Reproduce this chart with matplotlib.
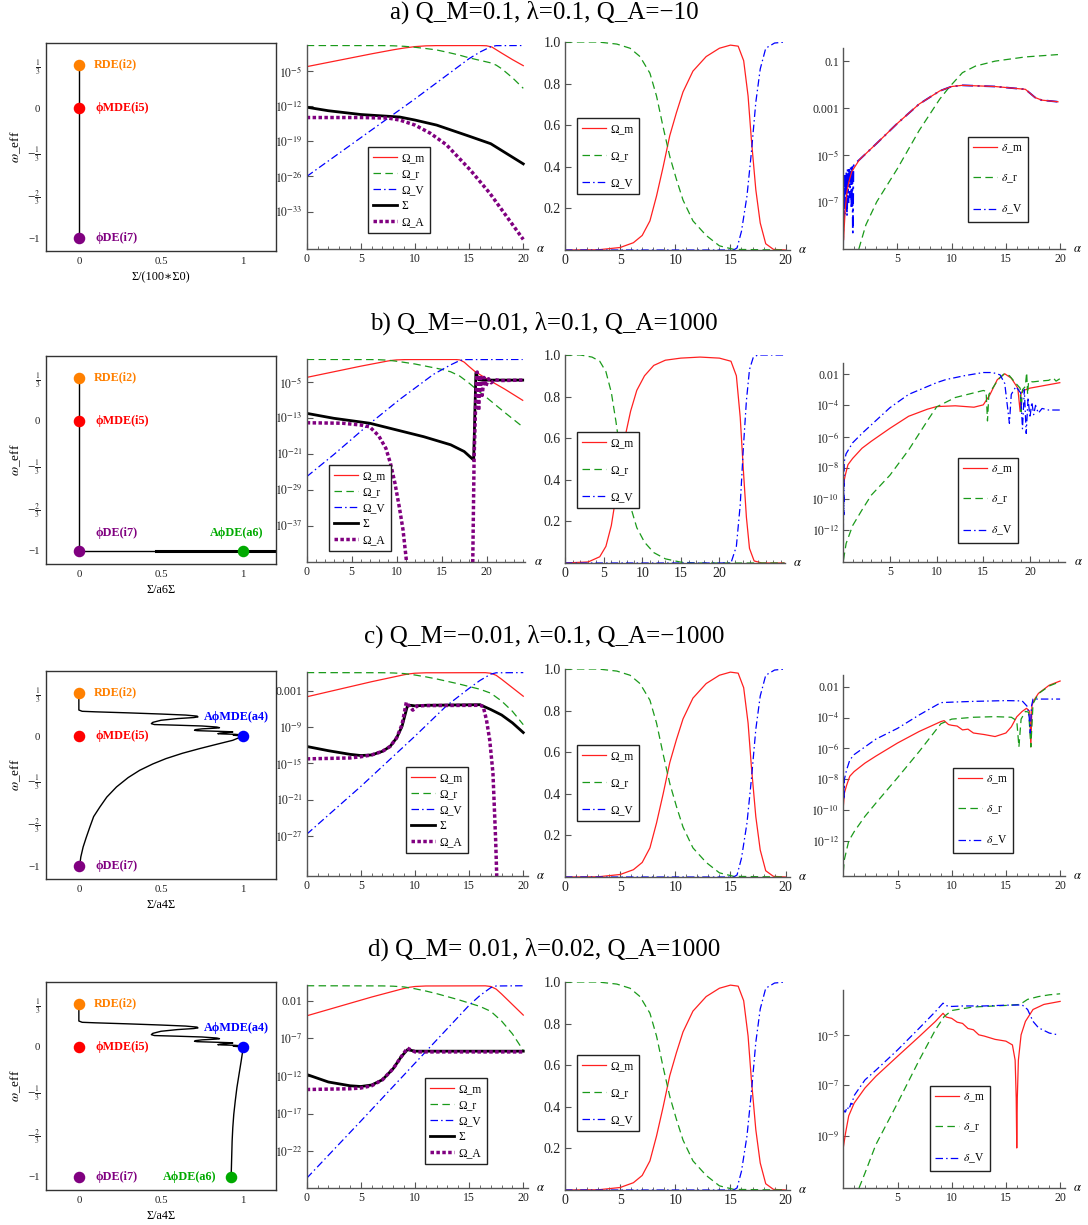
import numpy as np
import matplotlib
matplotlib.use('Agg')
import matplotlib.pyplot as plt
from matplotlib.lines import Line2D
from matplotlib.ticker import FixedLocator, MultipleLocator, NullLocator, FuncFormatter

plt.rcParams['font.family'] = ['Liberation Serif', 'DejaVu Serif']
plt.rcParams['mathtext.fontset'] = 'stix'

W, H = 1088, 1225
fig = plt.figure(figsize=(W / 100, H / 100), dpi=100)

# ======================= DATA =======================
titles = ['a) Q_M=0.1, λ=0.1, Q_A=−10',
          'b) Q_M=−0.01, λ=0.1, Q_A=1000',
          'c) Q_M=−0.01, λ=0.1, Q_A=−1000',
          'd) Q_M= 0.01, λ=0.02, Q_A=1000']
phase_xlabels = ['Σ/(100∗Σ0)', 'Σ/a6Σ', 'Σ/a4Σ', 'Σ/a4Σ']
omega_labels = ['Ω_m', 'Ω_r', 'Ω_V', 'Σ', 'Ω_A']
delta_labels = [r'$\delta$_m', r'$\delta$_r', r'$\delta$_V']
weff_ticks = [1 / 3, 0, -1 / 3, -2 / 3, -1]
weff_ticklabels = [r'$\frac{1}{3}$', '0', r'$-\frac{1}{3}$', r'$-\frac{2}{3}$', '−1']

# ---- column 1: phase-space paths (Sigma-ratio, w_eff) ----
a1_x = [0, 0]
a1_y = [1 / 3, -1]
b1_x = [0, 0, 1.2]
b1_y = [1 / 3, -1, -1]
b1_thick_x = [0.47, 1.2]
b1_thick_y = [-1, -1]
c1_up_x = [0, 0, 0.02, 0.1, 0.3, 0.5, 0.65, 0.72, 0.725, 0.70, 0.6, 0.5, 0.45, 0.441, 0.46,
           0.6, 0.75, 0.84, 0.856, 0.84, 0.75, 0.71, 0.704, 0.72, 0.85, 0.92, 0.937, 0.92,
           0.86, 0.846, 0.87, 0.95, 0.978, 0.96, 0.94, 0.96, 0.99, 1.0]
c1_up_y = [0.3333, 0.2, 0.19, 0.186, 0.178, 0.169, 0.161, 0.153, 0.147, 0.142, 0.134, 0.121,
           0.105, 0.095, 0.088, 0.083, 0.077, 0.069, 0.064, 0.061, 0.055, 0.049, 0.044, 0.041,
           0.036, 0.033, 0.031, 0.028, 0.022, 0.018, 0.016, 0.013, 0.01, 0.008, 0.006, 0.004,
           0.002, 0.0]
c1_lo_x = [1.0, 0.937, 0.835, 0.735, 0.63, 0.53, 0.45, 0.37, 0.3, 0.229, 0.17, 0.128, 0.09,
           0.067, 0.045, 0.026, 0.012, 0.006]
c1_lo_y = [0, -0.033, -0.065, -0.097, -0.133, -0.174, -0.215, -0.264, -0.32, -0.392, -0.47,
           -0.546, -0.62, -0.7, -0.78, -0.854, -0.93, -0.987]
d1_lo_x = [1.0, 0.995, 0.988, 0.975, 0.962, 0.952, 0.943, 0.937, 0.933, 0.93, 0.927]
d1_lo_y = [0, -0.05, -0.108, -0.21, -0.313, -0.415, -0.518, -0.62, -0.723, -0.86, -1.0]

# fixed points (name, colour)
pt_names = ['RDE(i2)', 'ϕMDE(i5)', 'ϕDE(i7)', 'AϕMDE(a4)', 'AϕDE(a6)']
pt_colors = ['#ff8000', '#ff0000', '#800080', '#0000ff', '#00aa00']

# ---- column 2: log10 of density parameters ----
# row a
a2_m_x = [0, 2, 4, 6, 8, 9, 10, 11, 12, 16, 16.6, 17.1, 18, 19, 20]
a2_m_y = [-4.2, -3.35, -2.5, -1.65, -0.85, -0.5, -0.22, -0.07, -0.02, -0.01, -0.05, -0.3, -1.5, -2.8, -4.0]
a2_r_x = [0, 7, 8, 9, 10, 11, 12, 13, 14, 15, 16, 17, 17.5, 18, 19, 20]
a2_r_y = [0, -0.02, -0.06, -0.16, -0.35, -0.6, -0.88, -1.35, -1.85, -2.45, -2.95, -3.45, -3.9, -4.6, -6.4, -8.5]
a2_V_x = [0, 5, 10, 15, 16, 17, 17.5, 20]
a2_V_y = [-26.0, -18.3, -10.6, -2.6, -1.3, -0.25, -0.03, 0]
a2_S_x = [0, 2, 5, 8.6, 10, 12, 15, 17, 20]
a2_S_y = [-12.25, -12.95, -13.7, -14.2, -14.8, -15.8, -18.0, -19.5, -23.5]
a2_A_x = [0, 5, 7.5, 8.6, 10, 11.4, 12.9, 15.1, 16.9, 20]
a2_A_y = [-14.3, -14.3, -14.4, -14.8, -15.8, -17.4, -19.7, -24.7, -29.3, -38.5]
# row b
b2_m_x = [0, 3, 6, 9, 9.5, 10, 11, 16.5, 17, 17.5, 18, 18.7, 20, 22, 24]
b2_m_y = [-4.0, -2.75, -1.5, -0.35, -0.2, -0.1, -0.03, -0.01, -0.1, -0.6, -1.5, -2.7, -4.3, -6.6, -9.1]
b2_r_x = [0, 7, 8, 9, 10, 11, 12, 13, 14, 15, 16, 17, 18, 19, 20, 22, 24]
b2_r_y = [0, -0.02, -0.06, -0.16, -0.4, -0.7, -1.0, -1.4, -1.8, -2.2, -2.75, -3.7, -5.2, -6.9, -8.5, -11.8, -15.0]
b2_V_x = [0, 3, 7, 10.4, 14.1, 16, 17, 17.5, 24]
b2_V_y = [-26.1, -21.2, -14.3, -8.8, -3.3, -1.2, -0.25, -0.03, 0]
b2_S_x = [0, 3, 7, 10, 13, 16, 17.5, 18.55, 18.8, 19.1, 19.5, 24]
b2_S_y = [-12.0, -13.1, -14.2, -15.7, -17.2, -19.0, -20.5, -22.4, -3.0, -4.5, -4.6, -4.6]
b2_A1_x = [0, 4, 5, 6, 7, 8, 8.8, 9.3, 9.8, 10.3, 10.7, 11.1]
b2_A1_y = [-14.1, -14.2, -14.4, -14.6, -15.0, -17.0, -19.8, -23.1, -27.5, -33.0, -37.9, -45.2]
b2_A2_x = [18.45, 18.6, 18.8, 18.95, 19.1, 19.3, 19.5, 19.7, 19.9, 20.2, 20.5, 20.9, 21.5, 24]
b2_A2_y = [-45.2, -22, -8, -2.8, -11.4, -3.5, -8.0, -4.0, -6.0, -4.3, -5.2, -4.5, -4.7, -4.6]
# row c
c2_m_x = [0, 3, 6, 9, 9.5, 10, 11, 16.5, 17, 17.5, 18, 19, 20]
c2_m_y = [-4.0, -2.75, -1.5, -0.35, -0.2, -0.1, -0.03, -0.01, -0.1, -0.45, -1.1, -2.5, -3.9]
c2_r_x = [0, 7, 8, 9, 10, 11, 12, 13, 14, 15, 16, 17, 18, 19, 20]
c2_r_y = [0, -0.02, -0.06, -0.16, -0.4, -0.7, -1.05, -1.45, -1.85, -2.3, -2.75, -3.4, -4.7, -6.4, -8.6]
c2_V_x = [0, 5, 10, 12.9, 15, 16, 17, 17.5, 20]
c2_V_y = [-26.7, -18.8, -10.5, -5.5, -2.6, -1.3, -0.25, -0.03, 0]
c2_S_x = [0, 2, 4, 5, 6, 7, 7.7, 8.3, 8.8, 9.3, 9.6, 10, 11, 16, 17, 18, 19, 20]
c2_S_y = [-12.2, -12.9, -13.5, -13.7, -13.6, -13.0, -12.2, -10.8, -8.9, -5.5, -5.4, -5.5, -5.4, -5.3, -6.1, -7.0, -8.3, -9.9]
c2_A_x = [0, 4, 5, 6, 7, 7.7, 8.3, 8.8, 9.2, 9.5, 9.8, 10.2, 11, 16, 16.3, 16.6, 16.9, 17.2, 17.45, 17.55]
c2_A_y = [-14.25, -14.1, -13.9, -13.6, -13.0, -12.2, -10.8, -8.6, -4.9, -5.6, -6.2, -5.5, -5.45, -5.4, -5.6, -7.8, -11.1, -16.6, -27.7, -33.6]
# row d
d2_m_x = [0, 3, 6, 9, 9.5, 10, 11, 16.5, 17, 17.5, 18, 19, 20]
d2_m_y = [-4.0, -2.75, -1.5, -0.35, -0.2, -0.1, -0.03, -0.01, -0.1, -0.45, -1.1, -2.5, -3.9]
d2_r_x = [0, 7, 8, 9, 10, 11, 12, 13, 14, 15, 16, 17, 18, 19, 20]
d2_r_y = [0, -0.02, -0.06, -0.16, -0.4, -0.7, -1.05, -1.45, -1.85, -2.3, -2.75, -3.4, -4.7, -6.4, -8.6]
d2_V_x = [0, 5, 10, 15, 16, 17, 17.5, 20]
d2_V_y = [-25.6, -18.0, -10.3, -2.6, -1.3, -0.25, -0.03, 0]
d2_S_x = [0, 2, 4, 5, 6, 7, 8, 8.7, 9.3, 10, 20]
d2_S_y = [-11.8, -12.8, -13.3, -13.4, -13.2, -12.5, -11.0, -9.5, -8.5, -8.7, -8.7]
d2_A_x = [0, 4, 5, 6, 7, 8, 8.7, 9.3, 10, 20]
d2_A_y = [-13.8, -13.7, -13.6, -13.3, -12.5, -11.0, -9.5, -8.3, -8.8, -8.8]

# ---- column 3: linear density parameters (rows a, c, d) ----
lin_m_x = [0, 3, 5, 6.2, 7, 7.7, 8.3, 8.9, 9.5, 10.1, 10.7, 11.6, 12.8, 14, 15, 15.7, 16.2,
           16.6, 16.9, 17.3, 17.7, 18.2, 18.9, 20]
lin_m_y = [0, 0.001, 0.012, 0.035, 0.07, 0.14, 0.26, 0.40, 0.55, 0.66, 0.76, 0.86, 0.93, 0.97,
           0.985, 0.98, 0.91, 0.74, 0.53, 0.29, 0.13, 0.03, 0.003, 0]
lin_r_x = [0, 3, 4.7, 5.9, 6.8, 7.7, 8.3, 8.9, 9.5, 10.1, 10.7, 11.6, 12.8, 14, 15.3, 20]
lin_r_y = [1.0, 1.0, 0.99, 0.97, 0.93, 0.85, 0.74, 0.59, 0.45, 0.34, 0.24, 0.14, 0.07, 0.02, 0.003, 0]
lin_V_x = [0, 15.3, 15.6, 16.0, 16.5, 16.9, 17.3, 17.7, 18.2, 19, 20]
lin_V_y = [0, 0, 0.01, 0.09, 0.26, 0.47, 0.71, 0.87, 0.97, 0.995, 1.0]
# row b (longer alpha range)
linb_m_x = [0, 3, 4.5, 5.3, 6, 6.6, 7.2, 7.8, 8.5, 9.3, 10.3, 11.5, 13, 15, 17.5, 20, 21.5,
            22.2, 22.7, 23.1, 23.5, 23.9, 24.5, 25.5, 28.4]
linb_m_y = [0, 0.005, 0.03, 0.08, 0.18, 0.32, 0.48, 0.61, 0.73, 0.83, 0.9, 0.95, 0.975, 0.985,
            0.99, 0.985, 0.97, 0.9, 0.7, 0.45, 0.22, 0.07, 0.01, 0, 0]
linb_r_x = [0, 2, 3.5, 4.5, 5.3, 6, 6.6, 7.2, 7.8, 8.5, 9.3, 10.3, 11.5, 13, 15, 17, 28.4]
linb_r_y = [1.0, 1.0, 0.99, 0.97, 0.92, 0.82, 0.68, 0.52, 0.39, 0.27, 0.17, 0.1, 0.05, 0.02,
            0.004, 0, 0]
linb_V_x = [0, 21.5, 22.2, 22.7, 23.1, 23.5, 23.9, 24.4, 25, 28.4]
linb_V_y = [0, 0, 0.08, 0.28, 0.55, 0.78, 0.93, 0.99, 1.0, 1.0]

# ---- column 4: log10 of perturbations ----
a4_m_x = [0.05, 0.1, 0.2, 0.35, 0.5, 0.8, 1.5, 3.1, 5, 7, 8.9, 10, 11, 14, 16.8, 17.7, 18.3, 19.8]
a4_m_y = [-8.6, -8.1, -7.3, -6.6, -6.2, -5.7, -5.2, -4.5, -3.65, -2.83, -2.27, -2.08, -2.03, -2.08, -2.2, -2.55, -2.66, -2.73]
a4_V_x = [0.0, 0.05, 0.08, 0.12, 0.16, 0.2, 0.25, 0.3, 0.36, 0.42, 0.48, 0.55, 0.62, 0.7, 0.78,
          0.85, 0.9, 0.95, 1.0, 1.5, 3.1, 5, 7, 8.9, 10, 11, 14, 16.8, 17.7, 18.3, 19.8]
a4_V_y = [-8.9, -6.0, -7.8, -5.9, -7.5, -5.8, -7.2, -5.7, -7.6, -5.6, -7.0, -5.5, -6.8, -5.5,
          -7.3, -5.4, -8.3, -5.5, -5.4, -5.2, -4.5, -3.65, -2.83, -2.27, -2.08, -2.03, -2.08,
          -2.2, -2.55, -2.66, -2.73]
a4_r_x = [1.45, 2.1, 3.1, 5, 7, 8.9, 9.8, 11, 12.2, 14, 16.8, 19.8]
a4_r_y = [-9.0, -7.97, -6.99, -5.58, -3.96, -2.62, -2.1, -1.49, -1.21, -1.0, -0.82, -0.72]

b4_m_x = [0.02, 0.1, 0.2, 0.5, 1, 2, 3, 5, 7, 9, 10, 12, 14, 15, 15.7, 16.5, 17.3, 18, 18.7,
          18.95, 19.05, 19.3, 20, 23.2]
b4_m_y = [-9.2, -8.8, -8.5, -7.8, -7.4, -6.75, -6.3, -5.47, -4.7, -4.25, -4.08, -4.03, -4.12,
          -3.97, -3.33, -2.36, -1.98, -2.26, -2.9, -4.4, -3.2, -3.05, -2.9, -2.55]
b4_r_x = [0.02, 0.3, 1, 2, 3, 5, 7, 9, 10, 12, 14, 15, 15.3, 15.45, 15.6, 16.0, 16.6, 17.2,
          17.8, 18.5, 18.95, 19.05, 19.2, 19.5, 19.65, 19.75, 19.85, 20.0, 20.3, 21, 22, 22.5,
          22.8, 23.2]
b4_r_y = [-13.9, -12.85, -11.7, -10.7, -9.75, -8.47, -6.86, -5.0, -4.1, -3.5, -3.2, -3.05,
          -3.1, -5.0, -3.3, -2.9, -2.35, -2.0, -2.1, -2.6, -2.9, -4.4, -3.0, -2.8, -1.9, -3.3,
          -2.5, -2.45, -2.5, -2.45, -2.4, -2.25, -2.45, -2.3]
b4_V_x = [0.0, 0.03, 0.06, 0.1, 0.3, 1, 2, 3, 5, 7, 9, 10, 11, 13, 15, 16, 16.8, 17.3, 17.8,
          18.0, 18.5, 19.0, 19.2, 19.4, 19.6, 19.8, 20.0, 20.2, 20.4, 20.6, 20.9, 21.3, 22, 23.2]
b4_V_y = [-14.0, -9.0, -11.0, -7.6, -7.1, -6.4, -5.8, -5.25, -4.15, -3.3, -2.8, -2.55, -2.35,
          -2.1, -1.9, -1.9, -2.05, -2.6, -5.15, -3.3, -2.8, -3.2, -5.5, -3.0, -5.8, -3.5, -4.8,
          -3.8, -4.6, -4.0, -4.5, -4.2, -4.3, -4.3]

c4_m_x = [0.0, 0.1, 0.3, 0.6, 1, 2, 3, 5, 7, 9, 9.3, 9.7, 10, 10.5, 11, 11.5, 12, 12.5, 13, 14,
          15, 15.5, 16, 16.5, 16.9, 17.2, 17.3, 17.4, 17.6, 18, 19, 20]
c4_m_y = [-9.8, -8.9, -8.4, -7.8, -7.5, -6.95, -6.5, -5.65, -4.9, -4.26, -4.2, -4.45, -4.5,
          -4.55, -4.8, -4.75, -5.0, -5.05, -5.1, -5.23, -5.0, -4.6, -3.95, -3.6, -3.4, -3.6,
          -5.9, -3.2, -2.86, -2.43, -1.9, -1.63]
c4_r_x = [0.0, 0.1, 0.5, 1, 2, 3, 5, 7, 9, 10, 12, 14, 15.5, 16.0, 16.2, 16.4, 16.8, 17.1, 17.3,
          17.5, 18, 19, 20]
c4_r_y = [-14.0, -13.2, -12.0, -11.4, -10.4, -9.55, -7.9, -6.2, -4.4, -4.1, -3.98, -3.94,
          -3.98, -4.2, -5.9, -4.1, -3.6, -3.65, -5.9, -3.1, -2.45, -1.95, -1.67]
c4_V_x = [0.0, 0.03, 0.06, 0.1, 0.3, 0.6, 1, 2, 3, 5, 7, 9, 10, 12, 15, 16.5, 17.0, 17.15,
          17.25, 17.35, 17.5, 18, 20]
c4_V_y = [-10.0, -8.2, -9.3, -8.0, -7.4, -6.75, -6.4, -5.9, -5.4, -4.7, -3.83, -3.03, -3.0,
          -2.95, -2.9, -2.92, -3.3, -4.0, -5.0, -3.3, -2.8, -2.8, -2.8]

d4_m_x = [0.02, 0.2, 0.5, 1, 2, 3, 5, 7, 8.5, 9.2, 9.5, 10, 10.5, 11, 11.5, 12, 12.5, 13, 14, 15,
          15.6, 15.85, 15.95, 16.0, 16.05, 16.15, 16.4, 16.8, 17.5, 18.5, 20]
d4_m_y = [-9.4, -8.9, -8.2, -7.7, -7.1, -6.64, -5.85, -5.07, -4.47, -4.15, -4.3, -4.35, -4.5,
          -4.55, -4.75, -4.8, -5.0, -5.05, -5.18, -5.25, -5.4, -6.0, -7.5, -9.47, -7.5, -6.0,
          -5.0, -4.47, -4.0, -3.8, -3.68]
d4_r_x = [1.45, 2, 3, 5, 7, 8.5, 9.3, 10, 12, 14, 15, 16.3, 17, 18, 19, 20]
d4_r_y = [-11.05, -10.46, -9.34, -7.7, -6.0, -4.8, -4.28, -4.04, -3.9, -3.86, -3.84, -3.8,
          -3.6, -3.49, -3.42, -3.38]
d4_V_x = [0.0, 0.1, 0.2, 0.3, 0.4, 0.5, 0.6, 0.7, 0.8, 0.9, 1, 2, 3, 5, 7, 8.5, 9.2, 9.5, 10,
          11, 13, 15, 16.5, 17, 17.5, 18, 19, 19.8]
d4_V_y = [-8.1, -8.0, -8.05, -7.9, -7.95, -7.8, -7.85, -7.7, -7.75, -7.55, -7.4, -6.78, -6.4,
          -5.6, -4.74, -4.08, -3.75, -3.85, -3.88, -3.86, -3.86, -3.83, -3.82, -4.0, -4.47,
          -4.72, -4.93, -5.0]

# ======================= STYLES =======================
ST_m = dict(color='#ff2020', lw=0.9, ls='-')
ST_r = dict(color='#1a9a1a', lw=0.9, ls=(0, (6, 3.5)))
ST_V = dict(color='#0000ff', lw=0.9, ls=(0, (6, 2.5, 1.2, 2.5)))
ST_S = dict(color='black', lw=2.0, ls='-')
ST_A = dict(color='#800080', lw=2.5, ls=(0, (1, 0.7)), dash_capstyle='butt')
AXC = '#555555'
LFS = 8.3


def box(x0, y0, x1, y1):
    return fig.add_axes([x0 / W, 1 - y1 / H, (x1 - x0) / W, (y1 - y0) / H])


def logfmt(v, pos):
    e = int(round(np.log10(v)))
    if e == -1:
        return '0.1'
    if e == -2:
        return '0.01'
    if e == -3:
        return '0.001'
    return r'$10^{%d}$' % e


def curve_axes(ax, xmax, ylim, log, yticks, xticks, fs):
    ax.set_xlim(0, xmax)
    for s in ['top', 'right']:
        ax.spines[s].set_visible(False)
    for s in ['left', 'bottom']:
        ax.spines[s].set_color(AXC)
        ax.spines[s].set_linewidth(1.0)
    ax.patch.set_alpha(0)
    if log:
        ax.set_yscale('log')
        ax.set_ylim(10.0 ** ylim[0], 10.0 ** ylim[1])
        ax.yaxis.set_major_locator(FixedLocator([10.0 ** e for e in yticks]))
        ax.yaxis.set_major_formatter(FuncFormatter(logfmt))
        ax.yaxis.set_minor_locator(NullLocator())
    else:
        ax.set_ylim(*ylim)
        ax.yaxis.set_major_locator(FixedLocator(yticks))
        ax.yaxis.set_major_formatter(FuncFormatter(lambda v, p: '%.1f' % v))
    ax.xaxis.set_major_locator(FixedLocator(xticks))
    ax.xaxis.set_minor_locator(MultipleLocator(1))
    ax.tick_params(which='major', direction='in', length=4, width=0.8, color=AXC,
                   labelsize=fs, labelcolor='#222222', pad=3)
    ax.tick_params(which='minor', direction='in', length=2, width=0.6, color=AXC)
    ax.annotate(r'$\alpha$', xy=(1, 0), xycoords='axes fraction', xytext=(6, 0),
                textcoords='offset points', ha='left', va='center', fontsize=9)


def leg(ax, styles, labels, x0, y0, spacing):
    hs = [Line2D([], [], **st) for st in styles]
    lg = ax.legend(hs, labels, loc='upper left', bbox_to_anchor=(x0 / W, 1 - y0 / H),
                   bbox_transform=fig.transFigure, frameon=True, fancybox=False,
                   edgecolor='#222222', framealpha=1, borderaxespad=0, handlelength=2.1,
                   handletextpad=0.35, labelspacing=spacing, borderpad=0.45, fontsize=LFS)
    lg.get_frame().set_linewidth(1.0)


def logplot(ax, x, y, st):
    ax.plot(x, 10.0 ** np.array(y), **st)


def phase_axes(ax, xlabel):
    ax.set_xlim(-0.2, 1.2)
    ax.set_ylim(-1.1, 0.5)
    for s in ax.spines.values():
        s.set_color('#333333')
        s.set_linewidth(1.0)
    ax.set_xticks([0, 0.5, 1])
    ax.set_xticklabels(['0', '0.5', '1'])
    ax.set_yticks(weff_ticks)
    ax.set_yticklabels(weff_ticklabels)
    ax.tick_params(direction='in', length=0, labelsize=7.8, labelcolor='#222222', pad=4)
    ax.set_xlabel(xlabel, fontsize=8.8, labelpad=4)
    ax.set_ylabel(r'$\omega$_eff', fontsize=9.5, labelpad=3)


def point(ax, x, y, k, tx, ty, ha='left'):
    ax.plot([x], [y], 'o', ms=7.3, color=pt_colors[k], zorder=5, clip_on=False)
    ax.text(tx, ty, pt_names[k], color=pt_colors[k], fontsize=8.7, fontweight='bold',
            ha=ha, va='center')


# ======================= FIGURE =======================
row_top = [43, 356, 671, 982]
title_y = [12, 323, 636, 949]
for i, t in enumerate(titles):
    fig.text(544 / W, 1 - title_y[i] / H, t, ha='center', va='center', fontsize=18)

# ---------- column 1 ----------
for i in range(4):
    ax = box(46, row_top[i], 276, row_top[i] + 208)
    phase_axes(ax, phase_xlabels[i])
    if i == 0:
        ax.plot(a1_x, a1_y, color='black', lw=1.0)
    elif i == 1:
        ax.plot(b1_x, b1_y, color='black', lw=1.0)
        ax.plot(b1_thick_x, b1_thick_y, color='black', lw=2.2)
    else:
        ax.plot(c1_up_x, c1_up_y, color='black', lw=1.0)
        if i == 2:
            ax.plot(c1_lo_x, c1_lo_y, color='black', lw=1.0)
        else:
            ax.plot(d1_lo_x, d1_lo_y, color='black', lw=1.0)
    point(ax, 0, 1 / 3, 0, 0.09, 1 / 3)
    point(ax, 0, 0, 1, 0.1, 0)
    if i == 1:
        point(ax, 0, -1, 2, 0.1, -0.86)
        point(ax, 1, -1, 4, 0.8, -0.86)
    else:
        point(ax, 0, -1, 2, 0.1, -1)
    if i >= 2:
        point(ax, 1, 0, 3, 0.76, 0.148)
    if i == 3:
        point(ax, d1_lo_x[-1], -1, 4, 0.51, -1)

# ---------- column 2 ----------
omega_styles = [ST_m, ST_r, ST_V, ST_S, ST_A]
C2FS = 8.5
L5 = 0.34
# row a
ax = box(306.7, 45, 527.6, 249)
curve_axes(ax, 20.4, (-40.4, 0.1), True, [-5, -12, -19, -26, -33], [0, 5, 10, 15, 20], C2FS)
logplot(ax, a2_m_x, a2_m_y, ST_m)
logplot(ax, a2_r_x, a2_r_y, ST_r)
logplot(ax, a2_V_x, a2_V_y, ST_V)
logplot(ax, a2_S_x, a2_S_y, ST_S)
logplot(ax, a2_A_x, a2_A_y, ST_A)
leg(ax, omega_styles, omega_labels, 368, 147, L5)
# row b
ax = box(306.7, 359, 525.4, 562)
curve_axes(ax, 24.3, (-45.1, 0.1), True, [-5, -13, -21, -29, -37], [0, 5, 10, 15, 20], C2FS)
logplot(ax, b2_m_x, b2_m_y, ST_m)
logplot(ax, b2_r_x, b2_r_y, ST_r)
logplot(ax, b2_V_x, b2_V_y, ST_V)
logplot(ax, b2_S_x, b2_S_y, ST_S)
logplot(ax, b2_A1_x, b2_A1_y, ST_A)
logplot(ax, b2_A2_x, b2_A2_y, ST_A)
leg(ax, omega_styles, omega_labels, 329, 465, L5)
# row c
ax = box(306.7, 672, 527.6, 876)
curve_axes(ax, 20.4, (-33.6, 0.1), True, [-3, -9, -15, -21, -27], [0, 5, 10, 15, 20], C2FS)
logplot(ax, c2_m_x, c2_m_y, ST_m)
logplot(ax, c2_r_x, c2_r_y, ST_r)
logplot(ax, c2_V_x, c2_V_y, ST_V)
logplot(ax, c2_S_x, c2_S_y, ST_S)
logplot(ax, c2_A_x, c2_A_y, ST_A)
leg(ax, omega_styles, omega_labels, 406, 767, L5)
# row d
ax = box(306.7, 985, 527.6, 1188)
curve_axes(ax, 20.4, (-26.9, 0.1), True, [-2, -7, -12, -17, -22], [0, 5, 10, 15, 20], C2FS)
logplot(ax, d2_m_x, d2_m_y, ST_m)
logplot(ax, d2_r_x, d2_r_y, ST_r)
logplot(ax, d2_V_x, d2_V_y, ST_V)
logplot(ax, d2_S_x, d2_S_y, ST_S)
logplot(ax, d2_A_x, d2_A_y, ST_A)
leg(ax, omega_styles, omega_labels, 425, 1078, L5)

# ---------- column 3 ----------
col3_boxes = [(565, 42, 790, 250, 20.4), (565, 355, 785, 563, 28.5),
              (565, 669, 790, 877, 20.4), (565, 982, 790, 1190, 20.4)]
col3_leg = [(577, 118), (577, 432), (577, 745), (577, 1055)]
for i, (x0, y0, x1, y1, xm) in enumerate(col3_boxes):
    ax = box(x0, y0, x1, y1)
    curve_axes(ax, xm, (0, 1.0), False, [0.2, 0.4, 0.6, 0.8, 1.0], [0, 5, 10, 15, 20], 10)
    if i == 1:
        ax.plot(linb_m_x, linb_m_y, **ST_m)
        ax.plot(linb_r_x, linb_r_y, **ST_r)
        ax.plot(linb_V_x, linb_V_y, **ST_V)
    else:
        ax.plot(lin_m_x, lin_m_y, **ST_m)
        ax.plot(lin_r_x, lin_r_y, **ST_r)
        ax.plot(lin_V_x, lin_V_y, **ST_V)
    leg(ax, [ST_m, ST_r, ST_V], omega_labels[:3], col3_leg[i][0], col3_leg[i][1], 1.3)

# ---------- column 4 ----------
delta_styles = [ST_m, ST_r, ST_V]
C4FS = 8.5
L3 = 1.52
ax = box(843.1, 48, 1065, 249)
curve_axes(ax, 20.45, (-9.0, -0.44), True, [-1, -3, -5, -7], [5, 10, 15, 20], C4FS)
logplot(ax, a4_r_x, a4_r_y, ST_r)
logplot(ax, a4_V_x, a4_V_y, dict(ST_V, lw=1.3))
logplot(ax, a4_m_x, a4_m_y, ST_m)
leg(ax, delta_styles, delta_labels, 968, 137, L3)

ax = box(843.3, 363, 1065.4, 562)
curve_axes(ax, 23.8, (-14.03, -1.29), True, [-2, -4, -6, -8, -10, -12], [5, 10, 15, 20], C4FS)
logplot(ax, b4_m_x, b4_m_y, ST_m)
logplot(ax, b4_r_x, b4_r_y, ST_r)
logplot(ax, b4_V_x, b4_V_y, ST_V)
leg(ax, delta_styles, delta_labels, 958, 458, L3)

ax = box(843.3, 675, 1065, 876)
curve_axes(ax, 20.45, (-14.27, -1.24), True, [-2, -4, -6, -8, -10, -12], [5, 10, 15, 20], C4FS)
logplot(ax, c4_m_x, c4_m_y, ST_m)
logplot(ax, c4_r_x, c4_r_y, ST_r)
logplot(ax, c4_V_x, c4_V_y, ST_V)
leg(ax, delta_styles, delta_labels, 953, 768, L3)

ax = box(843.3, 990, 1065, 1188)
curve_axes(ax, 20.45, (-11.05, -3.23), True, [-5, -7, -9], [5, 10, 15, 20], C4FS)
logplot(ax, d4_m_x, d4_m_y, ST_m)
logplot(ax, d4_r_x, d4_r_y, ST_r)
logplot(ax, d4_V_x, d4_V_y, ST_V)
leg(ax, delta_styles, delta_labels, 930, 1086, L3)

fig.savefig('out.png', dpi=100)
